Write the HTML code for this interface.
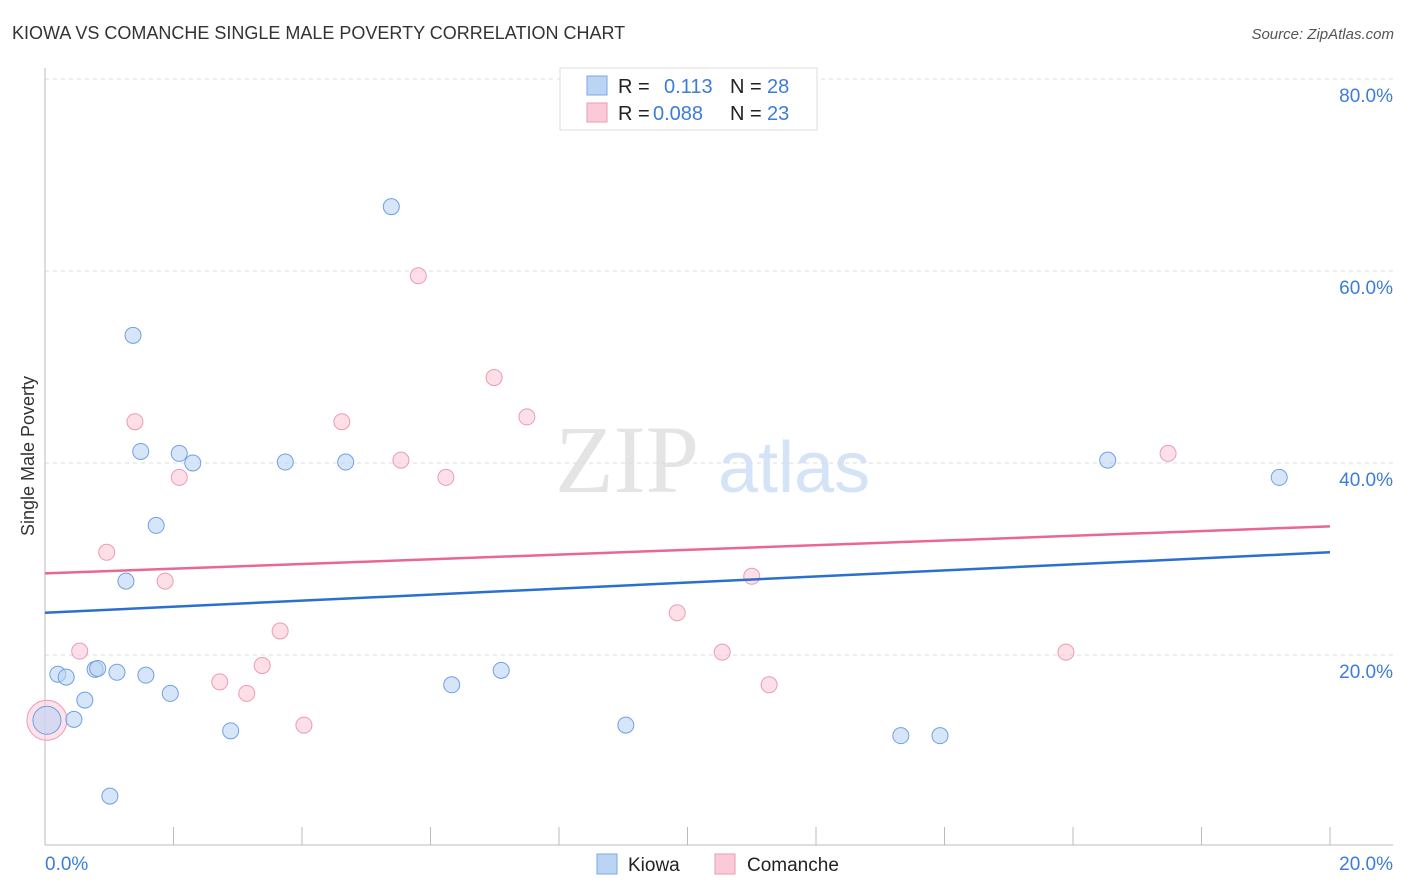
<!DOCTYPE html>
<html><head><meta charset="utf-8"><style>
body{margin:0;background:#fff;font-family:"Liberation Sans",sans-serif;}
svg{display:block}
</style></head><body>
<svg width="1406" height="892">
<text x="12" y="39" font-size="18" fill="#333">KIOWA VS COMANCHE SINGLE MALE POVERTY CORRELATION CHART</text>
<text x="1394" y="39" font-size="15" fill="#555" font-style="italic" text-anchor="end">Source: ZipAtlas.com</text>
<text x="555" y="492" font-size="96" fill="#e4e4e4" font-family="Liberation Serif,serif">ZIP</text>
<text x="718" y="492" font-size="72" fill="#d4e3f6">atlas</text>
<g id="grid"></g>
<g id="axes"></g>
<g id="marks"></g>
<text transform="translate(34,456) rotate(-90)" font-size="18" fill="#333" text-anchor="middle">Single Male Poverty</text>
<g>
<rect x="560" y="68" width="257" height="62" fill="#fff" stroke="#ddd"/>
<rect x="587" y="76" width="20" height="19" fill="#bcd4f4" stroke="#7aa8e6"/>
<rect x="587" y="103" width="20" height="19" fill="#fbcad8" stroke="#ee9ab4"/>
<text x="618" y="93" font-size="20" fill="#222">R =</text>
<text x="664" y="93" font-size="20" fill="#3b7dd8">0.113</text>
<text x="730" y="93" font-size="20" fill="#222">N =</text>
<text x="767" y="93" font-size="20" fill="#3b7dd8">28</text>
<text x="618" y="120" font-size="20" fill="#222">R =</text>
<text x="653" y="120" font-size="20" fill="#3b7dd8">0.088</text>
<text x="730" y="120" font-size="20" fill="#222">N =</text>
<text x="767" y="120" font-size="20" fill="#3b7dd8">23</text>
</g>
<g>
<rect x="597" y="854" width="20" height="20" fill="#bcd4f4" stroke="#7aa8e6"/>
<text x="628" y="871" font-size="19" fill="#222">Kiowa</text>
<rect x="715" y="854" width="20" height="20" fill="#fbcad8" stroke="#ee9ab4"/>
<text x="747" y="871" font-size="19" fill="#222">Comanche</text>
</g>
</svg>
<script>
const kiowaX=[0.03,0.20,0.33,0.45,0.62,0.78,0.82,1.01,1.12,1.26,1.37,1.49,1.57,1.73,1.95,2.09,2.30,2.89,3.74,4.68,5.39,6.33,7.10,9.04,13.32,13.93,16.54,19.21];
const kiowaY=[13.2,18.0,17.7,13.3,15.3,18.5,18.6,5.3,18.2,27.7,53.3,41.2,17.9,33.5,16.0,41.0,40.0,12.1,40.1,40.1,66.7,16.9,18.4,12.7,11.6,11.6,40.3,38.5];
const comancheX=[0.03,0.54,0.96,1.40,1.87,2.09,2.72,3.14,3.38,3.66,4.03,4.62,5.54,5.81,6.24,6.99,7.50,9.84,10.54,11.00,11.27,15.89,17.48];
const comancheY=[13.2,20.4,30.7,44.3,27.7,38.5,17.2,16.0,18.9,22.5,12.7,44.3,40.3,59.5,38.5,48.9,44.8,24.4,20.3,28.2,16.9,20.3,41.0];
const kiowaTrend=[24.4,30.7];
const comancheTrend=[28.5,33.4];
const yTicks=[20,40,60,80];
const yTickLabels=["20.0%","40.0%","60.0%","80.0%"];
const xTickCount=10;
const NS="http://www.w3.org/2000/svg";
const sx=v=>45+v/20*1285;
const sy=v=>847-v*9.6;
function mk(t,a,p){const e=document.createElementNS(NS,t);for(const k in a)e.setAttribute(k,a[k]);p.appendChild(e);return e;}
const grid=document.getElementById('grid'),axes=document.getElementById('axes'),marks=document.getElementById('marks');
yTicks.forEach((v,i)=>{
 const l=mk('line',{x1:45,x2:1393,y1:sy(v),y2:sy(v),stroke:'#ddd','stroke-dasharray':'4,4'},grid);
 
 
 const t=mk('text',{x:1393,y:sy(v)+23,'font-size':19,fill:'#3b7dd8','text-anchor':'end'},axes);
 t.textContent=yTickLabels[i];
 
 
});
const ya=mk('line',{x1:45,x2:45,y1:68,y2:845,stroke:'#bbb'},axes);


const xa=mk('line',{x1:45,x2:1393,y1:845,y2:845,stroke:'#bbb'},axes);


for(let i=0;i<=xTickCount;i++){
 const x=sx(i*20/xTickCount);
 const tk=mk('line',{x1:x,x2:x,y1:827,y2:845,stroke:'#bbb'},axes);
 
 
}
const x0=mk('text',{x:45,y:870,'font-size':19,fill:'#3b7dd8'},axes);x0.textContent='0.0%';


const x1=mk('text',{x:1393,y:870,'font-size':19,fill:'#3b7dd8','text-anchor':'end'},axes);x1.textContent='20.0%';


function pts(X,Y,fill,stroke,name){
 X.forEach((x,i)=>{
  const big=i===0;
  if(big&&name==='comanche-point'){const c=mk('circle',{cx:sx(x),cy:sy(Y[i]),r:20,fill:fill,stroke:stroke,'fill-opacity':0.55},marks);
   
   return;}
  const c=mk('circle',{cx:sx(x),cy:sy(Y[i]),r:big?14:8,fill:fill,stroke:stroke,'fill-opacity':0.6},marks);
  
  
 });
}
pts(comancheX,comancheY,'#fbcad8','#ee9ab4','comanche-point');
pts(kiowaX,kiowaY,'#bcd4f4','#6fa0e4','kiowa-point');
const tl1=mk('line',{x1:sx(0),x2:sx(20),y1:sy(comancheTrend[0]),y2:sy(comancheTrend[1]),stroke:'#e8688f','stroke-width':2.5},marks);


const tl2=mk('line',{x1:sx(0),x2:sx(20),y1:sy(kiowaTrend[0]),y2:sy(kiowaTrend[1]),stroke:'#2b6fd0','stroke-width':2.5},marks);


</script>
</body></html>
